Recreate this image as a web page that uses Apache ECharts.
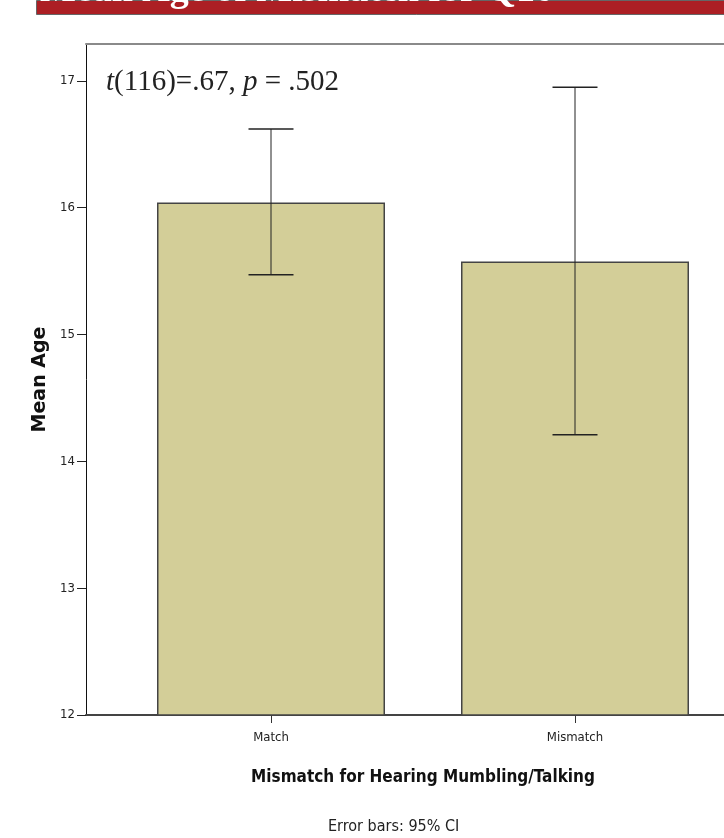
<!DOCTYPE html>
<html>
<head>
<meta charset="utf-8">
<script src="https://cdn.jsdelivr.net/npm/echarts@6/dist/echarts.min.js"></script>
<style>
html,body{margin:0;padding:0;background:#fff;overflow:hidden;width:724px;height:838px;}
#chart{width:800px;height:838px;}
</style>
</head>
<body>
<div id="chart"></div>
<script>
var categories = ['Match', 'Mismatch'];
var meanAge = [16.04, 15.575];
var ciLow = [15.47, 14.21];
var ciHigh = [16.62, 16.95];
var yTicks = [12, 13, 14, 15, 16, 17];
var yMin = 12, yMax = 17.29;

var narrow = '"Liberation Sans Narrow", "DejaVu Sans Condensed", Arial, sans-serif';

var chart = echarts.init(document.getElementById('chart'));
var errData = categories.map(function (c, i) { return [i, ciLow[i], ciHigh[i]]; });

chart.setOption({
  animation: false,
  backgroundColor: '#ffffff',
  grid: [
    { left: 119, top: 44, width: 608, height: 671 },
    { left: 86, top: 44, width: 674, height: 671 }
  ],
  xAxis: [
    {
      type: 'category', gridIndex: 0, data: categories,
      axisLine: { show: false },
      axisTick: { show: true, alignWithLabel: true, length: 8, lineStyle: { color: '#333', width: 1 } },
      axisLabel: { color: '#222', fontSize: 13, fontFamily: narrow, margin: 16 },
      name: 'Mismatch for Hearing Mumbling/Talking',
      nameLocation: 'middle', nameGap: 54,
      nameTextStyle: { color: '#111', fontSize: 17, fontWeight: 'bold', fontFamily: narrow }
    },
    {
      type: 'value', gridIndex: 1, min: 0, max: 1, position: 'bottom',
      axisLine: { show: true, lineStyle: { color: '#444', width: 2 } },
      axisTick: { show: false }, axisLabel: { show: false }, splitLine: { show: false }
    },
    {
      type: 'value', gridIndex: 1, min: 0, max: 1, position: 'top',
      axisLine: { show: true, lineStyle: { color: '#8a8a8a', width: 2 } },
      axisTick: { show: false }, axisLabel: { show: false }, splitLine: { show: false }
    }
  ],
  yAxis: [
    {
      type: 'value', gridIndex: 0, min: yMin, max: yMax, show: false
    },
    {
      type: 'value', gridIndex: 1, min: yMin, max: yMax,
      axisLine: { show: true, lineStyle: { color: '#111', width: 1 } },
      axisTick: { show: true, length: 9, customValues: yTicks, lineStyle: { color: '#222' } },
      axisLabel: { customValues: yTicks, color: '#222', fontSize: 13, fontFamily: narrow, margin: 11 },
      splitLine: { show: false },
      name: 'Mean Age', nameLocation: 'middle', nameGap: 33, nameRotate: 90,
      nameTextStyle: { color: '#111', fontSize: 19, fontWeight: 'bold', fontFamily: '"DejaVu Sans", sans-serif' }
    }
  ],
  series: [
    {
      type: 'bar', xAxisIndex: 0, yAxisIndex: 0, data: meanAge,
      barWidth: '75%',
      itemStyle: { color: '#d3ce98', borderColor: '#444', borderWidth: 1.5 }
    },
    {
      type: 'custom', xAxisIndex: 0, yAxisIndex: 0, data: errData, z: 10,
      renderItem: function (params, api) {
        var x = api.value(0);
        var lo = api.coord([x, api.value(1)]);
        var hi = api.coord([x, api.value(2)]);
        var half = api.size([1, 0])[0] * 0.074;
        var st = { stroke: '#222', lineWidth: 1.5 };
        return {
          type: 'group',
          children: [
            { type: 'line', shape: { x1: lo[0], y1: lo[1], x2: hi[0], y2: hi[1] }, style: { stroke: '#222', lineWidth: 1 } },
            { type: 'line', shape: { x1: hi[0] - half, y1: hi[1], x2: hi[0] + half, y2: hi[1] }, style: st },
            { type: 'line', shape: { x1: lo[0] - half, y1: lo[1], x2: lo[0] + half, y2: lo[1] }, style: st }
          ]
        };
      }
    }
  ],
  graphic: [
    {
      type: 'rect', left: 36, top: 0, z: 20,
      shape: { width: 760, height: 14 },
      style: { fill: '#ac1f24', stroke: '#666', lineWidth: 1 }
    },
    {
      type: 'text', left: 40, top: -28, z: 21,
      style: { text: 'Mean Age of Mismatch for Q10', fill: '#fff', font: 'bold 38px "Liberation Serif", serif' }
    },
    {
      type: 'text', left: 106, top: 68, z: 21,
      style: {
        text: '{i|t}{n|(116)=.67, }{i|p}{n| = .502}',
        rich: {
          i: { fontFamily: '"Liberation Serif", serif', fontStyle: 'italic', fontSize: 29, fill: '#222' },
          n: { fontFamily: '"Liberation Serif", serif', fontSize: 29, fill: '#222' }
        }
      }
    },
    {
      type: 'text', left: 328, top: 819, z: 21,
      style: { text: 'Error bars: 95% CI', fill: '#222', font: '16px ' + narrow }
    }
  ]
});
</script>
</body>
</html>
